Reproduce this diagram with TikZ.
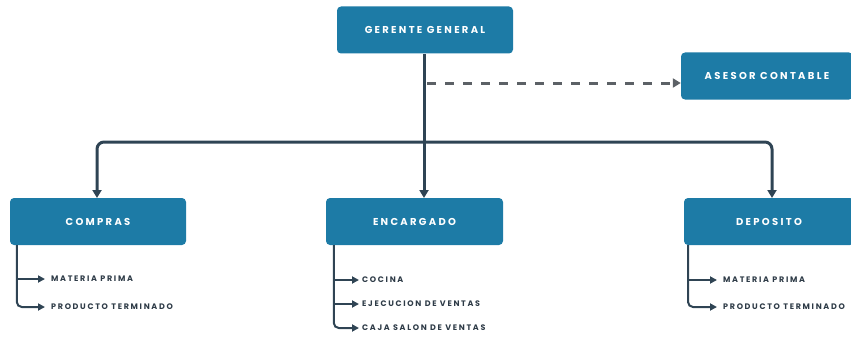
\documentclass[tikz,border=0pt]{standalone}
\usepackage{fontspec}
\setmainfont{Poppins}
\usetikzlibrary{arrows.meta}
\definecolor{boxblue}{HTML}{1D7BA6}
\definecolor{linedark}{HTML}{2F4454}
\definecolor{dashgray}{HTML}{5C6166}
\definecolor{itemtext}{HTML}{2E3B47}
\tikzset{
  box/.style={fill=boxblue, rounded corners=4pt, minimum height=47pt, inner sep=0pt,
    text=white, font=\bfseries\fontsize{10}{11}\selectfont\addfontfeatures{LetterSpace=23}},
  item/.style={anchor=west, inner sep=0pt, text=itemtext,
    font=\bfseries\fontsize{8}{9}\selectfont\addfontfeatures{LetterSpace=21}},
  mainline/.style={draw=linedark, line width=3pt, rounded corners=7pt,
    -{Triangle[length=8pt,width=9pt]}},
  subline/.style={draw=linedark, line width=2pt, rounded corners=5pt,
    -{Triangle[length=7pt,width=7pt]}},
  dashline/.style={draw=dashgray, line width=3pt, dash pattern=on 9pt off 9pt,
    -{Triangle[length=8pt,width=9pt]}}
}
\begin{document}
\begin{tikzpicture}[x=1pt,y=-1pt]
\useasboundingbox (0,0) rectangle (851,337);
% boxes
\node[box, minimum width=176pt] (gg) at (425,30) {GERENTE GENERAL};
\node[box, minimum width=172pt] (ac) at (767,76) {ASESOR CONTABLE};
\node[box, minimum width=176pt] (co) at (98,221.5) {COMPRAS};
\node[box, minimum width=177pt] (en) at (414.5,221.5) {ENCARGADO};
\node[box, minimum width=170pt] (de) at (769,221.5) {DEPOSITO};
% junction coordinates
\coordinate (top) at (424,54);
\coordinate (hub) at (424,142);
% main connectors
\draw[mainline] (top) -- (424,198);
\draw[mainline] (hub) -| (97,198);
\draw[mainline] (hub) -| (772,198);
\draw[dashline] (427,83) -- (ac.west |- 0,83);
% compras items
\node[item] (c1) at (51,279) {MATERIA PRIMA};
\node[item] (c2) at (51,307) {PRODUCTO TERMINADO};
\draw[subline] ([xshift=7pt]co.south west) |- ([xshift=-6pt]c2.west);
\draw[subline] (c1.west -| 17,0) -- ([xshift=-6pt]c1.west);
% encargado items
\node[item] (e1) at (362,280) {COCINA};
\node[item] (e2) at (362,304) {EJECUCION DE VENTAS};
\node[item] (e3) at (362,328) {CAJA SALON DE VENTAS};
\draw[subline] ([xshift=8pt]en.south west) |- ([xshift=-3pt]e3.west);
\draw[subline] (e1.west -| 334,0) -- ([xshift=-3pt]e1.west);
\draw[subline] (e2.west -| 334,0) -- ([xshift=-3pt]e2.west);
% deposito items
\node[item] (d1) at (723,280) {MATERIA PRIMA};
\node[item] (d2) at (723,307) {PRODUCTO TERMINADO};
\draw[subline] (688,245) |- ([xshift=-6pt]d2.west);
\draw[subline] (d1.west -| 688,0) -- ([xshift=-6pt]d1.west);
\end{tikzpicture}
\end{document}
